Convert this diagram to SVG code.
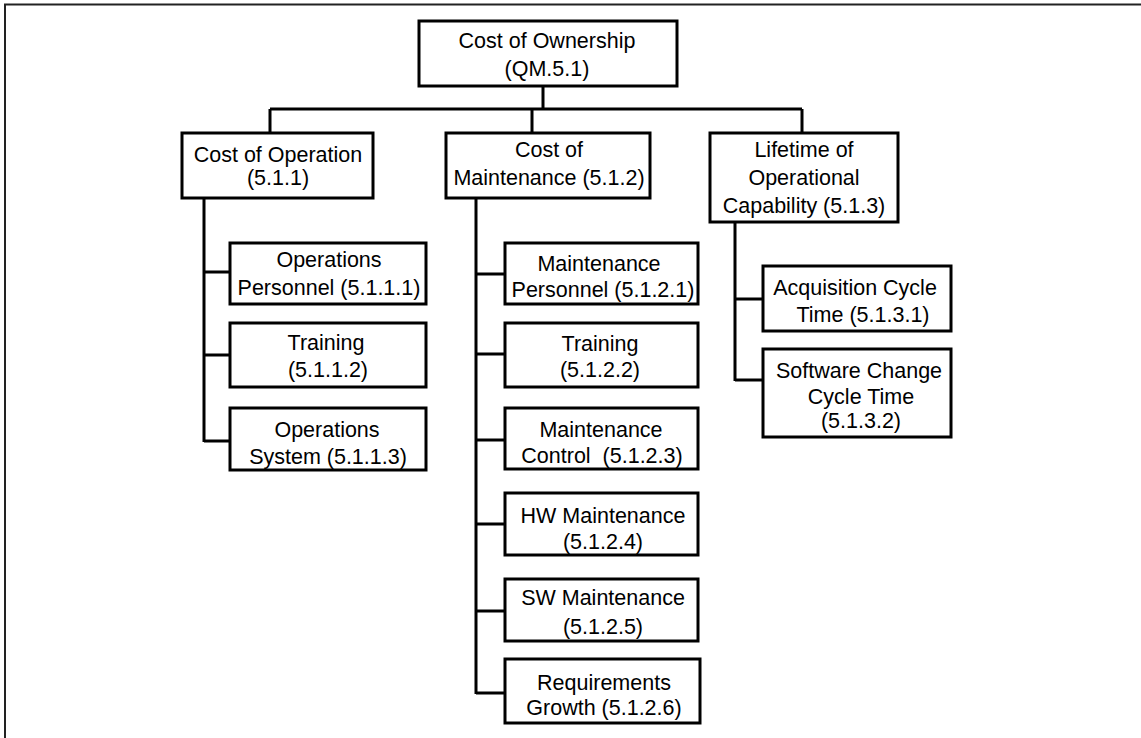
<svg xmlns="http://www.w3.org/2000/svg" width="1141" height="738" viewBox="0 0 1141 738">
<style>
.box{fill:#fff;stroke:#000;stroke-width:3}
.t{font-family:"Liberation Sans",Arial,sans-serif;font-size:21.5px;fill:#000;text-anchor:middle}
.c{fill:none;stroke:#000;stroke-width:3}
.frame{fill:none;stroke:#222;stroke-width:2}
</style>
<rect width="1141" height="738" fill="#fff"/>
<path class="frame" d="M5,738 V4.5 H1141"/>
<g id="connectors">
<path class="c" d="M543,86 V109 M270,109 H802 M270,109 V133 M532,109 V133 M802,109 V133"/>
<path class="c" d="M204,198 V442 M204,272 H230 M204,355 H230 M204,441 H230"/>
<path class="c" d="M476,198 V694 M476,274 H505 M476,354 H505 M476,440 H505 M476,524 H505 M476,611 H505 M476,693 H505"/>
<path class="c" d="M735,222 V381 M735,299 H763 M735,380 H763"/>
</g>
<g id="root"><rect class="box" x="419" y="21" width="258" height="65"/><text class="t" x="547" y="48">Cost of Ownership</text><text class="t" x="547" y="76">(QM.5.1)</text></g>
<g id="n511"><rect class="box" x="182" y="133" width="191" height="65"/><text class="t" x="278" y="162">Cost of Operation</text><text class="t" x="278" y="185">(5.1.1)</text></g>
<g id="n512"><rect class="box" x="446" y="133" width="204" height="65"/><text class="t" x="549" y="157">Cost of</text><text class="t" x="549" y="185">Maintenance (5.1.2)</text></g>
<g id="n513"><rect class="box" x="710" y="133" width="188" height="89"/><text class="t" x="804" y="157">Lifetime of</text><text class="t" x="804" y="185">Operational</text><text class="t" x="804" y="213">Capability (5.1.3)</text></g>
<g id="n5111"><rect class="box" x="230" y="243" width="196" height="61"/><text class="t" x="329" y="267">Operations</text><text class="t" x="329" y="295">Personnel (5.1.1.1)</text></g>
<g id="n5112"><rect class="box" x="230" y="323" width="196" height="64"/><text class="t" x="326" y="350">Training</text><text class="t" x="328" y="377">(5.1.1.2)</text></g>
<g id="n5113"><rect class="box" x="230" y="408" width="196" height="62"/><text class="t" x="327" y="437">Operations</text><text class="t" x="328" y="464">System (5.1.1.3)</text></g>
<g id="n5121"><rect class="box" x="505" y="243" width="193" height="61"/><text class="t" x="599" y="271">Maintenance</text><text class="t" x="603" y="297">Personnel (5.1.2.1)</text></g>
<g id="n5122"><rect class="box" x="505" y="323" width="193" height="64"/><text class="t" x="600" y="351">Training</text><text class="t" x="600" y="377">(5.1.2.2)</text></g>
<g id="n5123"><rect class="box" x="505" y="408" width="193" height="61"/><text class="t" x="601" y="437">Maintenance</text><text class="t" x="602" y="463" xml:space="preserve">Control  (5.1.2.3)</text></g>
<g id="n5124"><rect class="box" x="505" y="493" width="193" height="62"/><text class="t" x="603" y="523">HW Maintenance</text><text class="t" x="603" y="549">(5.1.2.4)</text></g>
<g id="n5125"><rect class="box" x="505" y="579" width="193" height="62"/><text class="t" x="603" y="605">SW Maintenance</text><text class="t" x="603" y="634">(5.1.2.5)</text></g>
<g id="n5126"><rect class="box" x="505" y="659" width="195" height="64"/><text class="t" x="604" y="690">Requirements</text><text class="t" x="604" y="715">Growth (5.1.2.6)</text></g>
<g id="n5131"><rect class="box" x="763" y="266" width="188" height="65"/><text class="t" x="855" y="295">Acquisition Cycle</text><text class="t" x="863" y="322">Time (5.1.3.1)</text></g>
<g id="n5132"><rect class="box" x="763" y="349" width="188" height="88"/><text class="t" x="859" y="378">Software Change</text><text class="t" x="861" y="404">Cycle Time</text><text class="t" x="861" y="428">(5.1.3.2)</text></g>
</svg>
